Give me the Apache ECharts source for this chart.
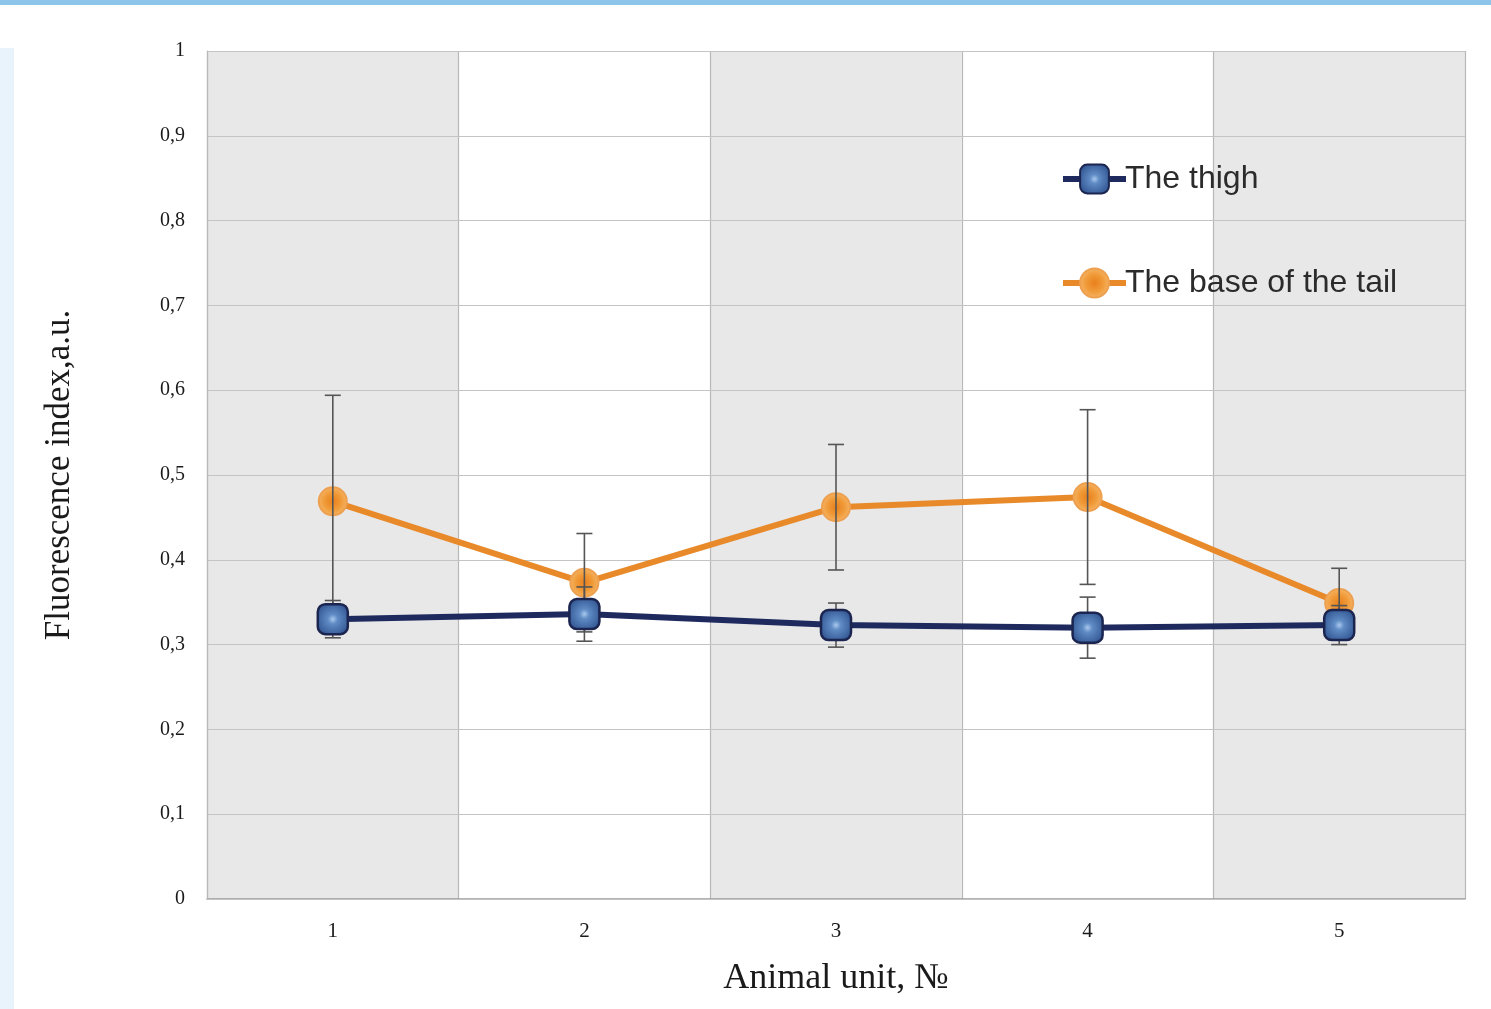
<!DOCTYPE html>
<html>
<head>
<meta charset="utf-8">
<script src="https://cdn.jsdelivr.net/npm/echarts@6/dist/echarts.min.js"></script>
<style>
  html, body { margin: 0; padding: 0; background: #ffffff; }
  #chart { width: 1491px; height: 1009px; }
</style>
</head>
<body>
<div id="chart"></div>
<script>
// Animal units on the x axis
const categories = ['1', '2', '3', '4', '5'];

// Fluorescence index, thigh
const thighValues = [0.330, 0.336, 0.323, 0.320, 0.323];
const thighErrors = [0.022, 0.032, 0.026, 0.036, 0.023];

// Fluorescence index, base of the tail
const tailValues = [0.469, 0.373, 0.462, 0.474, 0.349];
const tailErrors = [0.125, 0.058, 0.074, 0.103, 0.041];

const serifFont = '"Liberation Serif", "DejaVu Serif", serif';
const sansFont = '"Liberation Sans", Arial, sans-serif';

function errorData(values, errors) {
  return values.map((v, i) => [i, v - errors[i], v + errors[i]]);
}

function renderErrorBar(params, api) {
  const x = api.value(0);
  const low = api.coord([x, api.value(1)]);
  const high = api.coord([x, api.value(2)]);
  const half = 8;
  const style = { stroke: '#555555', lineWidth: 1.6 };
  return {
    type: 'group',
    children: [
      { type: 'line', shape: { x1: high[0], y1: high[1], x2: low[0], y2: low[1] }, style: style },
      { type: 'line', shape: { x1: high[0] - half, y1: high[1], x2: high[0] + half, y2: high[1] }, style: style },
      { type: 'line', shape: { x1: low[0] - half, y1: low[1], x2: low[0] + half, y2: low[1] }, style: style }
    ]
  };
}

const chart = echarts.init(document.getElementById('chart'));

chart.setOption({
  animation: false,
  backgroundColor: '#ffffff',
  graphic: [
    { type: 'rect', left: 0, top: 0, shape: { width: 1491, height: 5 }, style: { fill: '#8cc4ea' }, z: -10 },
    { type: 'rect', left: 0, top: 48, shape: { width: 14, height: 961 }, style: { fill: '#e9f3fc' }, z: -10 }
  ],
  grid: { left: 207, right: 26, top: 51, bottom: 110, containLabel: false },
  legend: {
    orient: 'vertical',
    left: 1055,
    top: 158,
    itemGap: 72,
    itemWidth: 63,
    itemHeight: 36,
    lineStyle: { width: 6 },
    textStyle: { fontFamily: sansFont, fontSize: 32, color: '#2b2b2b', padding: [0, 0, 0, -6] },
    data: ['The thigh', 'The base of the tail']
  },
  xAxis: {
    type: 'category',
    data: categories,
    boundaryGap: true,
    z: 0,
    name: 'Animal unit, №',
    nameLocation: 'middle',
    nameGap: 62,
    nameTextStyle: { fontFamily: serifFont, fontSize: 36, color: '#1a1a1a' },
    axisLine: { show: true, lineStyle: { color: '#9a9a9a', width: 1.5 } },
    axisTick: { show: false },
    axisLabel: { fontFamily: serifFont, fontSize: 21, color: '#1a1a1a', margin: 22 },
    splitLine: { show: true, lineStyle: { color: '#b8b8b8', width: 1.2 } },
    splitArea: { show: true, areaStyle: { color: ['#e8e8e8', '#ffffff'] } }
  },
  yAxis: {
    type: 'value',
    min: 0,
    max: 1,
    interval: 0.1,
    z: 1,
    name: 'Fluorescence index,a.u.',
    nameLocation: 'middle',
    nameGap: 130,
    nameTextStyle: { fontFamily: serifFont, fontSize: 35, color: '#1a1a1a' },
    axisLine: { show: true, lineStyle: { color: '#b8b8b8', width: 1.2 } },
    axisTick: { show: false },
    axisLabel: {
      fontFamily: serifFont,
      fontSize: 20,
      color: '#1a1a1a',
      margin: 22,
      formatter: function (v) {
        if (v === 0) return '0';
        if (v === 1) return '1';
        return v.toFixed(1).replace('.', ',');
      }
    },
    splitLine: { show: true, lineStyle: { color: '#c4c4c4', width: 1.2 } }
  },
  series: [
    {
      name: 'The base of the tail',
      type: 'line',
      data: tailValues,
      z: 2,
      symbol: 'circle',
      symbolSize: 28,
      lineStyle: { color: '#e8892a', width: 6 },
      itemStyle: {
        color: {
          type: 'radial', x: 0.5, y: 0.5, r: 0.5,
          colorStops: [
            { offset: 0, color: '#e8801c' },
            { offset: 0.55, color: '#f09a38' },
            { offset: 1, color: '#f6b565' }
          ]
        },
        borderColor: '#eda050',
        borderWidth: 2
      }
    },
    {
      name: 'tail-errors',
      type: 'custom',
      renderItem: renderErrorBar,
      data: errorData(tailValues, tailErrors),
      z: 3,
      silent: true,
      encode: { x: 0, y: [1, 2] }
    },
    {
      name: 'thigh-errors',
      type: 'custom',
      renderItem: renderErrorBar,
      data: errorData(thighValues, thighErrors),
      z: 3,
      silent: true,
      encode: { x: 0, y: [1, 2] }
    },
    {
      name: 'The thigh',
      type: 'line',
      data: thighValues,
      z: 4,
      symbol: 'roundRect',
      symbolSize: 30,
      lineStyle: { color: '#1e2a5e', width: 6 },
      itemStyle: {
        color: {
          type: 'radial', x: 0.5, y: 0.5, r: 0.6,
          colorStops: [
            { offset: 0, color: '#a9c8ee' },
            { offset: 0.25, color: '#5f8bc4' },
            { offset: 1, color: '#2c4f8c' }
          ]
        },
        borderColor: '#1b2550',
        borderWidth: 2.5
      }
    }
  ]
});
</script>
</body>
</html>
